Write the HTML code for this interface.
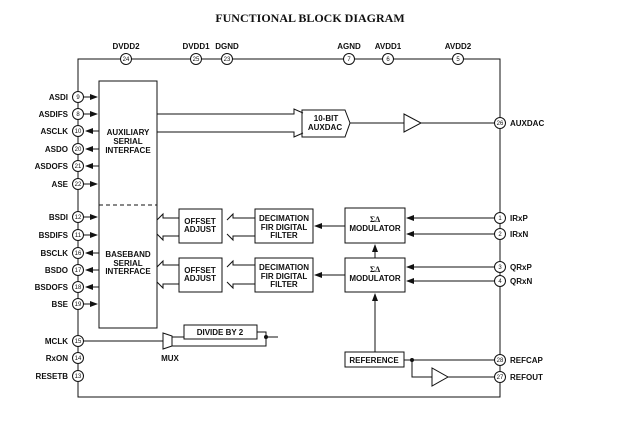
<!DOCTYPE html>
<html><head><meta charset="utf-8"><style>
html,body{margin:0;padding:0;background:#fff;}
svg{display:block;}
text{font-family:"Liberation Sans",Arial,sans-serif;font-weight:bold;font-size:8px;fill:#111;}
.pn{font-size:6px;font-weight:normal;}
</style></head><body>
<svg width="621" height="432" viewBox="0 0 621 432" xmlns="http://www.w3.org/2000/svg">
<defs>
<marker id="a" markerWidth="8" markerHeight="6" refX="7" refY="3" orient="auto" markerUnits="userSpaceOnUse"><path d="M0,0 L8,3 L0,6 z" fill="#111"/></marker>
</defs>
<text x="310" y="22" text-anchor="middle" style="font-family:'Liberation Serif',serif;font-size:12px">FUNCTIONAL BLOCK DIAGRAM</text>
<g fill="none" stroke="#111" stroke-width="1">
<!-- outer frame -->
<rect x="78" y="59" width="422" height="338"/>
<!-- interface box -->
<rect x="99" y="81" width="58" height="247"/>
<line x1="99" y1="205" x2="157" y2="205" stroke-dasharray="4,3"/>
<!-- aux bus -->
<polyline points="157,114 294,114 294,109 303,113"/>
<polyline points="157,132 294,132 294,137 303,133"/>
<polygon points="302,110 345,110 350,123 345,137 302,137"/>
<line x1="350" y1="123" x2="404" y2="123"/>
<polygon points="404,114 404,132 421,123"/>
<line x1="421" y1="123" x2="494" y2="123"/>
<!-- offset / decimation / modulator rows -->
<rect x="179" y="209" width="43" height="34"/>
<rect x="255" y="209" width="58" height="34"/>
<rect x="345" y="208" width="60" height="35"/>
<rect x="179" y="258" width="43" height="34"/>
<rect x="255" y="258" width="58" height="34"/>
<rect x="345" y="258" width="60" height="34"/>
<rect x="345" y="352" width="59" height="15"/>
<!-- hollow bus arrows -->
<polyline points="179,218 163,218 163,214 157,220"/>
<polyline points="179,236 163,236 163,240 157,234"/>
<polyline points="255,218 233,218 233,214 227,220"/>
<polyline points="255,236 233,236 233,240 227,234"/>
<polyline points="179,265 163,265 163,261 157,267"/>
<polyline points="179,284 163,284 163,288 157,282"/>
<polyline points="255,265 233,265 233,261 227,267"/>
<polyline points="255,284 233,284 233,288 227,282"/>
<!-- modulator to decimation -->
<line x1="345" y1="226" x2="315" y2="226" marker-end="url(#a)"/>
<line x1="345" y1="275" x2="315" y2="275" marker-end="url(#a)"/>
<line x1="375" y1="258" x2="375" y2="245" marker-end="url(#a)"/>
<line x1="375" y1="352" x2="375" y2="294" marker-end="url(#a)"/>
<!-- inputs -->
<line x1="494" y1="218" x2="407" y2="218" marker-end="url(#a)"/>
<line x1="494" y1="234" x2="407" y2="234" marker-end="url(#a)"/>
<line x1="494" y1="267" x2="407" y2="267" marker-end="url(#a)"/>
<line x1="494" y1="281" x2="407" y2="281" marker-end="url(#a)"/>
<!-- reference -->
<line x1="404" y1="360" x2="494" y2="360"/>
<polyline points="412,360 412,377 432,377"/>
<polygon points="432,368 432,386 448,377"/>
<line x1="448" y1="377" x2="494" y2="377"/>
<!-- mux / divide -->
<line x1="84" y1="341" x2="163" y2="341"/>
<polygon points="163,333 172,336 172,346 163,349"/>
<line x1="172" y1="337" x2="184" y2="337"/>
<rect x="184" y="325" width="73" height="14"/>
<polyline points="257,332 266,332 266,346 172,346"/>
<line x1="266" y1="337" x2="278" y2="337"/>
<!-- left pin arrows -->
<line x1="84" y1="97" x2="97" y2="97" marker-end="url(#a)"/>
<line x1="84" y1="114" x2="97" y2="114" marker-end="url(#a)"/>
<line x1="99" y1="131" x2="86" y2="131" marker-end="url(#a)"/>
<line x1="99" y1="149" x2="86" y2="149" marker-end="url(#a)"/>
<line x1="99" y1="166" x2="86" y2="166" marker-end="url(#a)"/>
<line x1="84" y1="184" x2="97" y2="184" marker-end="url(#a)"/>
<line x1="84" y1="217" x2="97" y2="217" marker-end="url(#a)"/>
<line x1="84" y1="235" x2="97" y2="235" marker-end="url(#a)"/>
<line x1="99" y1="253" x2="86" y2="253" marker-end="url(#a)"/>
<line x1="99" y1="270" x2="86" y2="270" marker-end="url(#a)"/>
<line x1="99" y1="287" x2="86" y2="287" marker-end="url(#a)"/>
<line x1="84" y1="304" x2="97" y2="304" marker-end="url(#a)"/>
</g>
<circle cx="266" cy="337" r="2" fill="#111"/>
<circle cx="412" cy="360" r="2" fill="#111"/>
<!-- pins -->
<g fill="#fff" stroke="#111" stroke-width="1">
<circle cx="126" cy="59" r="5.5"/><circle cx="196" cy="59" r="5.5"/><circle cx="227" cy="59" r="5.5"/>
<circle cx="349" cy="59" r="5.5"/><circle cx="388" cy="59" r="5.5"/><circle cx="458" cy="59" r="5.5"/>
<circle cx="78" cy="97" r="5.5"/><circle cx="78" cy="114" r="5.5"/><circle cx="78" cy="131" r="5.5"/>
<circle cx="78" cy="149" r="5.5"/><circle cx="78" cy="166" r="5.5"/><circle cx="78" cy="184" r="5.5"/>
<circle cx="78" cy="217" r="5.5"/><circle cx="78" cy="235" r="5.5"/><circle cx="78" cy="253" r="5.5"/>
<circle cx="78" cy="270" r="5.5"/><circle cx="78" cy="287" r="5.5"/><circle cx="78" cy="304" r="5.5"/>
<circle cx="78" cy="341" r="5.5"/><circle cx="78" cy="358" r="5.5"/><circle cx="78" cy="376" r="5.5"/>
<circle cx="500" cy="123" r="5.5"/><circle cx="500" cy="218" r="5.5"/><circle cx="500" cy="234" r="5.5"/>
<circle cx="500" cy="267" r="5.5"/><circle cx="500" cy="281" r="5.5"/><circle cx="500" cy="360" r="5.5"/>
<circle cx="500" cy="377" r="5.5"/>
</g>
<g class="pn" text-anchor="middle">
<text class="pn" x="126" y="61">24</text><text class="pn" x="196" y="61">25</text><text class="pn" x="227" y="61">23</text>
<text class="pn" x="349" y="61">7</text><text class="pn" x="388" y="61">6</text><text class="pn" x="458" y="61">5</text>
<text class="pn" x="78" y="99">9</text><text class="pn" x="78" y="116">8</text><text class="pn" x="78" y="133">10</text>
<text class="pn" x="78" y="151">20</text><text class="pn" x="78" y="168">21</text><text class="pn" x="78" y="186">22</text>
<text class="pn" x="78" y="219">12</text><text class="pn" x="78" y="237">11</text><text class="pn" x="78" y="255">16</text>
<text class="pn" x="78" y="272">17</text><text class="pn" x="78" y="289">18</text><text class="pn" x="78" y="306">19</text>
<text class="pn" x="78" y="343">15</text><text class="pn" x="78" y="360">14</text><text class="pn" x="78" y="378">13</text>
<text class="pn" x="500" y="125">26</text><text class="pn" x="500" y="220">1</text><text class="pn" x="500" y="236">2</text>
<text class="pn" x="500" y="269">3</text><text class="pn" x="500" y="283">4</text><text class="pn" x="500" y="362">28</text>
<text class="pn" x="500" y="379">27</text>
</g>
<g text-anchor="middle">
<text x="126" y="49">DVDD2</text><text x="196" y="49">DVDD1</text><text x="227" y="49">DGND</text>
<text x="349" y="49">AGND</text><text x="388" y="49">AVDD1</text><text x="458" y="49">AVDD2</text>
<text x="128" y="135">AUXILIARY</text><text x="128" y="144">SERIAL</text><text x="128" y="153">INTERFACE</text>
<text x="128" y="257">BASEBAND</text><text x="128" y="266">SERIAL</text><text x="128" y="274">INTERFACE</text>
<text x="326" y="121">10-BIT</text><text x="325" y="130">AUXDAC</text>
<text x="200" y="224">OFFSET</text><text x="200" y="232">ADJUST</text>
<text x="200" y="273">OFFSET</text><text x="200" y="281">ADJUST</text>
<text x="284" y="221">DECIMATION</text><text x="284" y="230">FIR DIGITAL</text><text x="284" y="238">FILTER</text>
<text x="284" y="270">DECIMATION</text><text x="284" y="279">FIR DIGITAL</text><text x="284" y="287">FILTER</text>
<text x="375" y="222" style="font-family:'Liberation Serif',serif">ΣΔ</text><text x="375" y="231">MODULATOR</text>
<text x="375" y="272" style="font-family:'Liberation Serif',serif">ΣΔ</text><text x="375" y="281">MODULATOR</text>
<text x="374" y="363">REFERENCE</text>
<text x="220" y="335">DIVIDE BY 2</text>
<text x="170" y="361">MUX</text>
</g>
<g text-anchor="end">
<text x="68" y="100">ASDI</text><text x="68" y="117">ASDIFS</text><text x="68" y="134">ASCLK</text>
<text x="68" y="152">ASDO</text><text x="68" y="169">ASDOFS</text><text x="68" y="187">ASE</text>
<text x="68" y="220">BSDI</text><text x="68" y="238">BSDIFS</text><text x="68" y="256">BSCLK</text>
<text x="68" y="273">BSDO</text><text x="68" y="290">BSDOFS</text><text x="68" y="307">BSE</text>
<text x="68" y="344">MCLK</text><text x="68" y="361">RxON</text><text x="68" y="379">RESETB</text>
</g>
<g>
<text x="510" y="126">AUXDAC</text><text x="510" y="221">IRxP</text><text x="510" y="237">IRxN</text>
<text x="510" y="270">QRxP</text><text x="510" y="284">QRxN</text><text x="510" y="363">REFCAP</text>
<text x="510" y="380">REFOUT</text>
</g>
</svg>
</body></html>
